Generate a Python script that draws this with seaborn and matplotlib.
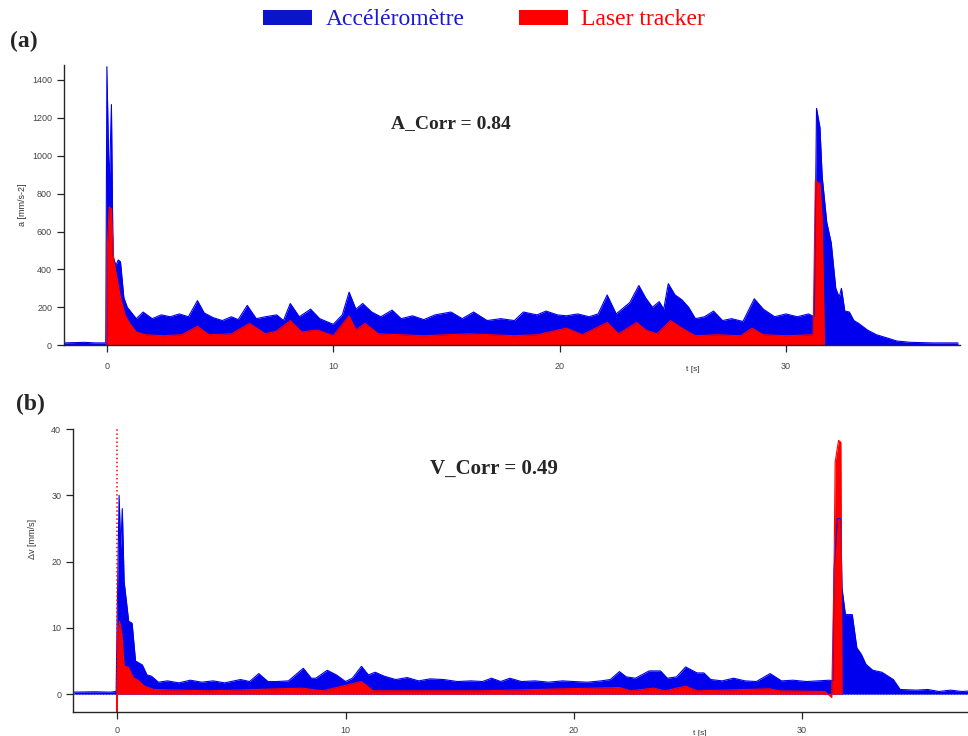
import numpy as np
import pandas as pd
import matplotlib
matplotlib.use("Agg")
import matplotlib.pyplot as plt
from matplotlib.patches import Patch
import seaborn as sns

# (a) acceleration envelopes [mm/s-2]
t_acc_blue = [-1.9, -1.0, -0.5, -0.05, 0.0, 0.1, 0.2, 0.27, 0.4, 0.5, 0.6, 0.75, 0.9, 1.0, 1.3, 1.6,
              2.0, 2.4, 2.8, 3.2, 3.6, 4.0, 4.3, 4.7, 5.1, 5.5, 5.8, 6.2, 6.6, 7.0, 7.5, 7.8, 8.1,
              8.5, 9.0, 9.4, 10.0, 10.4, 10.7, 11.0, 11.3, 11.7, 12.1, 12.6, 13.0, 13.5, 14.0,
              14.5, 15.2, 15.7, 16.2, 16.8, 17.4, 18.0, 18.4, 19.0, 19.4, 19.9, 20.3, 20.8, 21.3,
              21.7, 22.1, 22.5, 22.8, 23.1, 23.5, 23.8, 24.1, 24.4, 24.6, 24.8, 25.1, 25.4, 25.7,
              26.0, 26.4, 26.8, 27.2, 27.6, 28.1, 28.6, 29.0, 29.5, 30.0, 30.5, 31.0, 31.25,
              31.35, 31.5, 31.6, 31.8, 32.0, 32.2, 32.35, 32.45, 32.6, 32.8, 33.0, 33.2, 33.6,
              34.0, 34.5, 34.9, 35.5, 36.5, 37.6]
acc_blue = [12, 15, 12, 12, 1470, 820, 1270, 470, 420, 450, 440, 250, 200, 185, 140, 175,
            140, 160, 150, 165, 150, 235, 170, 145, 130, 150, 135, 210, 140, 150, 160, 130, 220,
            150, 190, 140, 110, 160, 280, 190, 220, 175, 150, 185, 140, 155, 135,
            160, 175, 140, 175, 130, 140, 130, 175, 160, 180, 160, 155, 165, 150,
            165, 265, 165, 195, 225, 315, 250, 200, 230, 190, 325, 265, 240, 200,
            140, 150, 180, 130, 140, 125, 245, 190, 150, 165, 150, 165, 150,
            1250, 1150, 890, 650, 540, 300, 253, 300, 180, 175, 130, 116, 80,
            55, 37, 22, 15, 12, 12]

t_acc_red = [0.0, 0.02, 0.1, 0.2, 0.3, 0.45, 0.6, 0.8, 1.0, 1.3, 1.7, 2.5, 3.3, 4.0, 4.5, 5.5,
             6.3, 7.0, 7.5, 8.1, 8.6, 9.3, 10.0, 10.7, 11.0, 11.4, 12.0, 13.0, 14.0, 15.0, 16.0,
             17.0, 18.0, 19.0, 20.3, 21.0, 22.1, 22.6, 23.4, 23.8, 24.3, 24.9, 25.4, 26.0, 27.0,
             28.0, 28.5, 29.0, 30.0, 31.2, 31.3, 31.5, 31.6, 31.7]
acc_red = [0, 520, 730, 720, 450, 350, 250, 160, 116, 70, 55, 50, 55, 100, 55, 60,
           115, 60, 75, 130, 70, 80, 50, 155, 80, 115, 60, 55, 50, 55, 60,
           55, 50, 55, 90, 55, 120, 60, 120, 80, 60, 130, 90, 50, 55,
           50, 90, 55, 50, 55, 870, 850, 660, 0]

# (b) velocity difference envelopes [mm/s]
t_vel_blue = [-1.9, -1.0, -0.3, -0.05, 0.0, 0.08, 0.15, 0.22, 0.3, 0.4, 0.5, 0.65, 0.8, 1.1, 1.3,
              1.5, 1.8, 2.2, 2.7, 3.2, 3.7, 4.2, 4.7, 5.4, 5.8, 6.2, 6.6, 7.0, 7.5, 8.15, 8.5,
              8.7, 9.2, 9.6, 10.0, 10.3, 10.7, 11.0, 11.3, 11.7, 12.2, 12.7, 13.2, 13.7, 14.3,
              14.9, 15.5, 16.0, 16.4, 16.8, 17.2, 17.7, 18.3, 18.9, 19.5, 20.0, 20.6, 21.2,
              21.6, 22.0, 22.3, 22.7, 23.3, 23.8, 24.1, 24.5, 24.9, 25.4, 25.7, 26.0, 26.5,
              27.0, 27.5, 28.0, 28.6, 29.1, 29.6, 30.2, 30.7, 31.2, 31.35, 31.4, 31.55, 31.7,
              31.75, 31.9, 32.2, 32.4, 32.6, 32.8, 33.1, 33.5, 34.0, 34.3, 35.0, 35.5, 36.0,
              36.5, 37.0, 37.5]
vel_blue = [0.3, 0.35, 0.3, 0.4, 13, 30, 22, 28, 17, 14, 11, 10.7, 5, 4.4, 2.9,
            2.7, 1.8, 2.0, 1.7, 2.1, 1.8, 2.0, 1.7, 2.2, 1.9, 3.1, 1.9, 1.9, 2.0, 3.9, 2.4,
            2.4, 3.6, 2.9, 1.9, 2.4, 4.2, 2.9, 3.3, 2.7, 2.2, 2.5, 2.0, 2.3, 2.2,
            1.9, 2.0, 1.9, 2.4, 1.9, 2.4, 1.9, 2.0, 1.8, 2.0, 1.9, 1.8, 2.0,
            2.2, 3.4, 2.6, 2.4, 3.5, 3.5, 2.4, 2.6, 4.1, 3.2, 3.2, 2.2, 2.0,
            2.4, 2.0, 1.9, 3.1, 2.0, 2.1, 1.9, 2.0, 2.1, 2.0, 18.7, 26.5, 26.5,
            16, 12, 12, 7, 6, 4.5, 3.6, 3.3, 2.2, 0.7, 0.6, 0.7, 0.4,
            0.6, 0.4, 0.5]

t_vel_red = [0.0, 0.02, 0.1, 0.2, 0.3, 0.5, 0.7, 0.9, 1.2, 1.6, 4.0, 8.1, 9.0, 10.7, 11.2, 16.0,
             22.0, 22.5, 23.5, 24.0, 24.9, 25.4, 28.6, 29.0, 31.0, 31.3, 31.4, 31.45, 31.6,
             31.7, 31.75]
vel_red = [0, 9, 11, 9, 4.3, 4.0, 2.5, 2.1, 1.2, 0.7, 0.5, 0.9, 0.5, 1.9, 0.5, 0.5,
           1.0, 0.5, 0.9, 0.5, 1.2, 0.5, 0.8, 0.5, 0.4, -0.5, 18, 35, 38.3, 38, 0]

# laser spike at the start of (b): time, bottom, top
vel_red_spike = [0.0, -2.7, 40.0]

a_ticks = [0, 200, 400, 600, 800, 1000, 1200, 1400]
v_ticks = [0, 10, 20, 30, 40]
t_ticks = [0, 10, 20, 30]

BLUE = "#0000ee"
RED = "#ff0000"

sns.set_style("ticks")
plt.rcParams["font.family"] = ["Liberation Sans", "DejaVu Sans"]

fig = plt.figure(figsize=(9.68, 7.36), dpi=100)
ax_a = fig.add_axes([0.066, 0.531, 0.926, 0.381])
ax_b = fig.add_axes([0.0754, 0.0326, 0.93, 0.3844])


def draw_env(ax, t, y, color, base=0.0, lw=0.8):
    df = pd.DataFrame({"t": t, "y": y})
    ax.fill_between(df["t"], base, df["y"], color=color, linewidth=0)
    sns.lineplot(data=df, x="t", y="y", ax=ax, color=color, linewidth=lw, estimator=None, sort=False)


# panel (a)
draw_env(ax_a, t_acc_blue, acc_blue, BLUE)
draw_env(ax_a, t_acc_red, acc_red, RED)
ax_a.set_xlim(-1.9, 37.7)
ax_a.set_ylim(0, 1480)
ax_a.set_yticks(a_ticks)
ax_a.set_xticks(t_ticks)
ax_a.set_ylabel("a [mm/s-2]", fontsize=6.5, color="#333333", labelpad=4)
ax_a.set_xlabel("")
ax_a.text(25.9, -130, "t [s]", fontsize=6, color="#333333", ha="center", va="center")
ax_a.text(15.2, 1170, "A_Corr = 0.84", family=["Liberation Serif"], fontweight="bold",
          fontsize=14, ha="center", va="center")

# panel (b)
ax_b.axhline(0, color="#888888", linestyle=":", linewidth=0.8, zorder=0)
draw_env(ax_b, t_vel_blue, vel_blue, BLUE)
draw_env(ax_b, t_vel_red, vel_red, RED)
ax_b.vlines(vel_red_spike[0], vel_red_spike[1], 0, color=RED, linewidth=1.4)
ax_b.vlines(vel_red_spike[0], 0, vel_red_spike[2], color=RED, linewidth=1.1, linestyles=":")
ax_b.set_xlim(-1.94, 37.5)
ax_b.set_ylim(-2.7, 40)
ax_b.set_yticks(v_ticks)
ax_b.set_xticks(t_ticks)
ax_b.set_ylabel("\u0394v [mm/s]", fontsize=6.5, color="#333333")
ax_b.yaxis.set_label_coords(-0.04, 0.61)
ax_b.set_xlabel("")
ax_b.text(25.5, -5.9, "t [s]", fontsize=6, color="#333333", ha="center", va="center")
ax_b.text(16.5, 34, "V_Corr = 0.49", family=["Liberation Serif"], fontweight="bold",
          fontsize=15, ha="center", va="center")

for ax in (ax_a, ax_b):
    sns.despine(ax=ax)
    ax.spines["left"].set_linewidth(1.0)
    ax.spines["bottom"].set_linewidth(1.0)
    ax.tick_params(axis="both", labelsize=6.5, labelcolor="#444444", length=5, width=0.9,
                   direction="out")
ax_a.tick_params(axis="x", pad=7)
ax_b.tick_params(axis="x", pad=5)

fig.text(0.010, 0.943, "(a)", family=["Liberation Serif"], fontweight="bold", fontsize=17,
         ha="left", va="center")
fig.text(0.017, 0.450, "(b)", family=["Liberation Serif"], fontweight="bold", fontsize=17,
         ha="left", va="center")

handles = [Patch(facecolor="#0a14c8", edgecolor="none"), Patch(facecolor="#ff0000", edgecolor="none")]
leg = fig.legend(handles, ["Accéléromètre", "Laser tracker"], loc="center", ncol=2,
                 bbox_to_anchor=(0.5, 0.973), frameon=False, handlelength=2.1, handleheight=0.6,
                 columnspacing=2.3, handletextpad=0.55,
                 prop={"family": "Liberation Serif", "size": 17})
for txt, col in zip(leg.get_texts(), ["#1a1ad0", "#ff0000"]):
    txt.set_color(col)

fig.savefig("out.png", dpi=100)
